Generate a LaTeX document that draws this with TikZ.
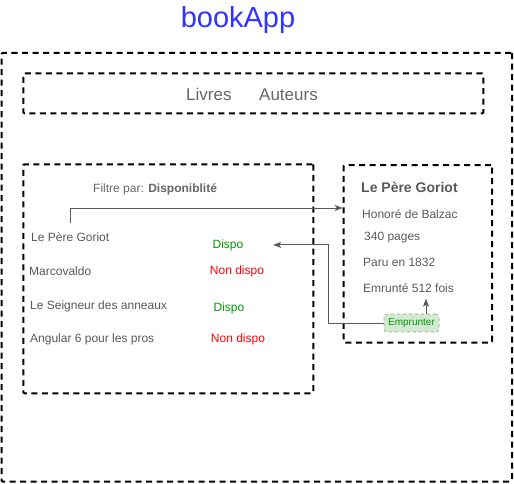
\documentclass[tikz,border=0pt]{standalone}
\usepackage{fontspec}
\setmainfont{Liberation Sans}
\usetikzlibrary{arrows.meta}
\definecolor{titre}{HTML}{3333FF}
\definecolor{gris}{HTML}{666666}
\definecolor{texte}{HTML}{595959}
\definecolor{vert}{HTML}{009900}
\definecolor{rouge}{HTML}{FF0000}
\definecolor{fondbtn}{HTML}{D5E8D4}
\definecolor{bordbtn}{HTML}{82B366}
\definecolor{fil}{HTML}{5A5A5A}
\newcommand{\taille}[1]{\fontsize{#1}{#1}\selectfont}

\begin{document}
\begin{tikzpicture}[x=1pt,y=-1pt,
        cadre/.style={draw,dashed,line width=2pt,dash pattern=on 6pt off 4.5pt,
          rounded corners=1pt,inner sep=0pt},
        txt/.style={anchor=base west,inner sep=0pt,text=texte,font=\taille{12}},
        etat/.style={anchor=base,inner sep=0pt,minimum width=90pt,font=\taille{12}},
        fleche/.style={draw=fil,line width=0.8pt,-{Stealth[length=8pt,width=6pt,inset=2pt]}}]

  \useasboundingbox (0,0) rectangle (514,484);

  \node[anchor=base,text=titre,font=\taille{29}] (titre) at (238,28) {bookApp};

  \node[cadre,minimum width=510.5pt,minimum height=428.5pt] (app)    at (256.75,267.25) {};
  \node[cadre,minimum width=460pt,minimum height=40pt]      (menu)   at (253.3,93.3) {};
  \node[cadre,minimum width=290pt,minimum height=229pt]     (liste)  at (168.3,278.8) {};
  \node[cadre,minimum width=148.3pt,minimum height=177.7pt] (fiche)  at (417.85,253.85) {};

  \node[txt,text=gris,font=\taille{17}] (livres)  at (186,101) {Livres};
  \node[txt,text=gris,font=\taille{17}] (auteurs) at (259,101) {Auteurs};

  \node[txt,text=gris] (filtre) at (93,192) {Filtre par: \textbf{Disponiblité}};

  \node[txt] (goriot)    at (31,241) {Le Père Goriot};
  \node[txt] (marco)     at (29,275) {Marcovaldo};
  \node[txt] (seigneur)  at (30,309) {Le Seigneur des anneaux};
  \node[txt] (angular)   at (30,342) {Angular 6 pour les pros};

  \node[etat,text=vert]  (dispoa)  at (228,248) {Dispo};
  \node[etat,text=rouge] (nondispa) at (237,274) {Non dispo};
  \node[etat,text=vert]  (dispob)  at (229,311) {Dispo};
  \node[etat,text=rouge] (nondispb) at (238,342) {Non dispo};

  \node[txt,font=\bfseries\taille{14}] (livre) at (361,192) {Le Père Goriot};
  \node[txt] (auteur)   at (362,218) {Honoré de Balzac};
  \node[txt] (pages)    at (364,240) {340 pages};
  \node[txt] (paru)     at (363,266) {Paru en 1832};
  \node[txt] (emprunte) at (363,292) {Emrunté 512 fois};

  \node[draw=bordbtn,fill=fondbtn,dashed,rounded corners=3pt,line width=0.6pt,
        minimum width=55pt,minimum height=18pt,inner sep=0pt,
        text=vert,font=\taille{10}] (emprunter) at (411.5,323) {Emprunter};

  \coordinate (entree) at (fiche.west |- 0,208);
  \draw[fleche] ([yshift=9pt]goriot.north) |- (entree);
  \draw[fleche] (emprunter.west) -- ++(-55,0) |- (dispoa.east);
  \draw[fleche] ([xshift=14.5pt]emprunter.north) -- ++(0,-15);

\end{tikzpicture}
\end{document}
